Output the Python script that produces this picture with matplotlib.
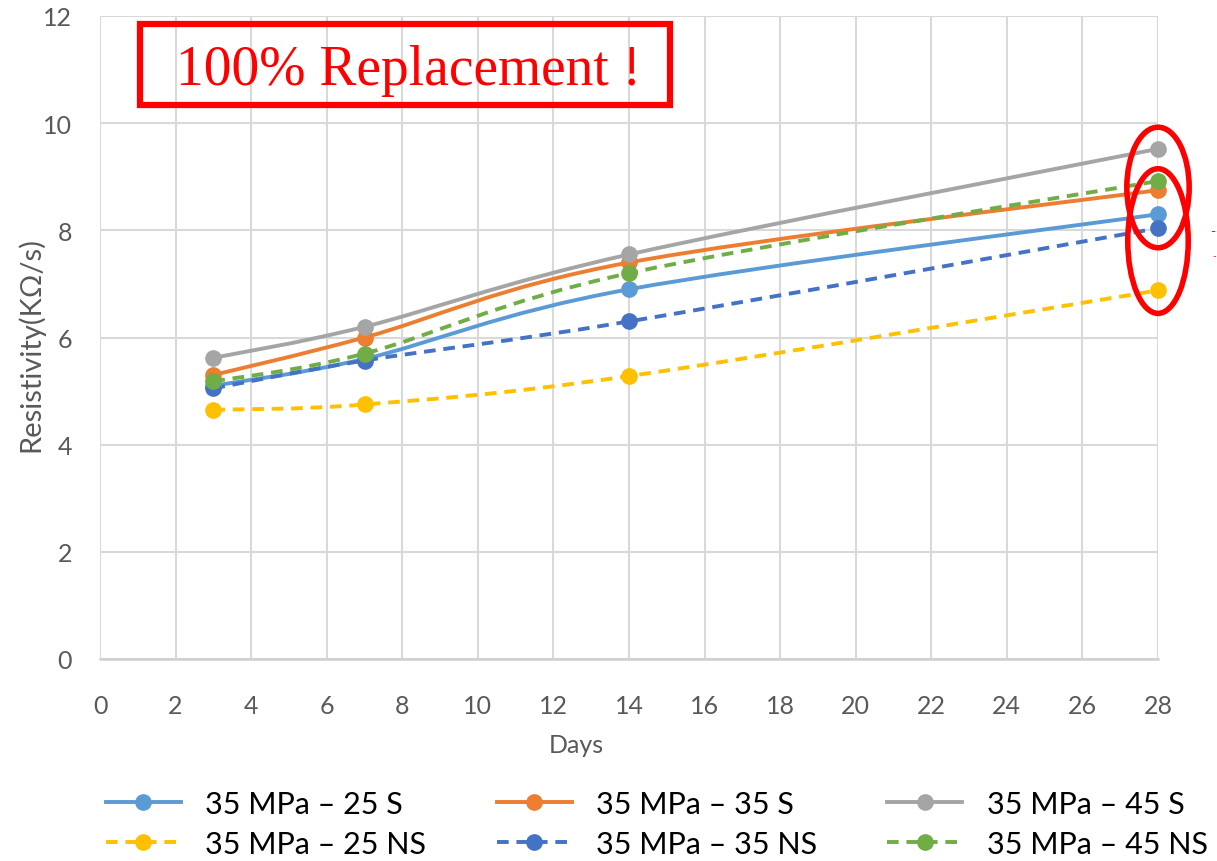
import numpy as np
import matplotlib
matplotlib.use("Agg")
import matplotlib.pyplot as plt
from matplotlib.path import Path
from matplotlib.patches import PathPatch, Ellipse, Rectangle
from matplotlib.lines import Line2D

days = [3, 7, 14, 28]
s25 = [5.1, 5.6, 6.9, 8.3]
s35 = [5.3, 6.0, 7.4, 8.75]
s45 = [5.62, 6.2, 7.55, 9.52]
ns25 = [4.65, 4.75, 5.28, 6.88]
ns35 = [5.05, 5.57, 6.3, 8.04]
ns45 = [5.18, 5.7, 7.2, 8.92]

names = ["35 MPa \u2013 25 S", "35 MPa \u2013 35 S", "35 MPa \u2013 45 S",
         "35 MPa \u2013 25 NS", "35 MPa \u2013 35 NS", "35 MPa \u2013 45 NS"]
series = [s25, s35, s45, ns25, ns35, ns45]
colors = ["#5B9BD5", "#ED7D31", "#A5A5A5", "#FFC000", "#4472C4", "#70AD47"]
dashed = [False, False, False, True, True, True]

plt.rcParams['font.family'] = ['Lato', 'DejaVu Sans']


def smooth_path(x, y):
    # excel style smoothed line: bezier through the points
    P = np.column_stack([x, y]).astype(float)
    n = len(P)
    verts = [P[0]]
    codes = [Path.MOVETO]
    for i in range(n - 1):
        p0 = P[i - 1] if i > 0 else P[i]
        p3 = P[i + 2] if i + 2 < n else P[i + 1]
        c1 = P[i] + (P[i + 1] - p0) / 6.0
        c2 = P[i + 1] - (p3 - P[i]) / 6.0
        verts += [c1, c2, P[i + 1]]
        codes += [Path.CURVE4] * 3
    return Path(verts, codes)


fig = plt.figure(figsize=(12.17, 8.62), dpi=100)
ax = fig.add_axes([100/1217, 1 - 660/862, 1058/1217, 643/862])

handles = []
for vals, c, d, nm in zip(series, colors, dashed, names):
    ls = (0, (3, 2)) if d else '-'
    patch = PathPatch(smooth_path(days, vals), facecolor='none', edgecolor=c,
                      lw=2.8, linestyle=ls, zorder=3)
    ax.add_patch(patch)
    ax.plot(days, vals, 'o', color=c, markersize=11, zorder=4, clip_on=False)
    handles.append(Line2D([], [], color=c, lw=2.8, linestyle=ls, marker='o',
                          markersize=11, label=nm))

ax.set_xlim(0, 28)
ax.set_ylim(0, 12)
ax.set_xticks(range(0, 29, 2))
ax.set_yticks(range(0, 13, 2))
ax.grid(True, color='#D9D9D9', lw=1.5, zorder=0)
for s in ['top', 'right', 'left']:
    ax.spines[s].set_visible(False)
ax.spines['bottom'].set_color('#D0D0D0')
ax.spines['bottom'].set_linewidth(1.8)
ax.tick_params(length=0, labelsize=18, colors='#595959')
ax.tick_params(axis='x', pad=25)
ax.tick_params(axis='y', pad=20)
ax.set_xlabel("Days", fontsize=18, color='#595959')
ax.xaxis.set_label_coords(0.45, -0.115)
ax.set_ylabel("Resistivity(K\u03a9/s)", fontsize=21, color='#595959')
ax.yaxis.set_label_coords(-0.053, 0.49)

# red ellipses at day 28
ax.add_patch(Ellipse((28, 8.8), 1.65, 2.25, fill=False, edgecolor='#FF0000',
                     lw=4, clip_on=False, zorder=5))
ax.add_patch(Ellipse((28, 7.8), 1.6, 2.7, fill=False, edgecolor='#FF0000',
                     lw=4, clip_on=False, zorder=5))
fig.text(1213/1217, 1 - 232/862, "-", color='#FF0000', fontsize=10,
         ha='center', va='center')
fig.text(1214/1217, 1 - 257/862, "-", color='#FF0000', fontsize=7,
         ha='center', va='center')

# title box
fig.patches.append(Rectangle((140/1217, 1 - 106/862), 530/1217, 81/862,
                             transform=fig.transFigure, fill=False,
                             edgecolor='#FF0000', lw=4.5))
fig.text(409/1217, 1 - 71/862, "100% Replacement !", color='#FF0000',
         fontsize=40, family='Liberation Serif', ha='center', va='center')

order = [0, 3, 1, 4, 2, 5]
fig.legend([handles[i] for i in order], [names[i] for i in order],
           loc='lower left', bbox_to_anchor=(103/1217, 0.0), ncol=3,
           frameon=False, fontsize=22, handlelength=2.45, handletextpad=0.8,
           columnspacing=2.3, labelspacing=0.4, borderpad=0.1,
           borderaxespad=0)

fig.savefig("out.png", dpi=100)
